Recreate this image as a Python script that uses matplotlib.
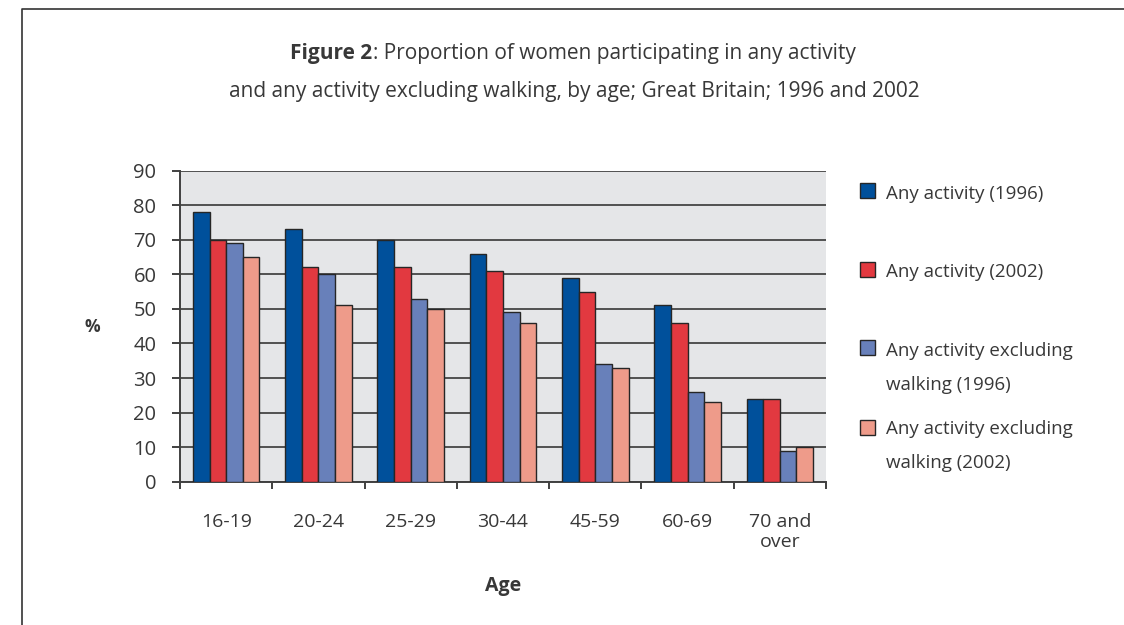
import numpy as np
import matplotlib
matplotlib.use("Agg")
import matplotlib.pyplot as plt
from matplotlib.patches import Rectangle
from matplotlib.lines import Line2D

plt.rcParams['font.family'] = ['Open Sans', 'DejaVu Sans']

ages = ["16-19", "20-24", "25-29", "30-44", "45-59", "60-69", "70 and\nover"]
any_1996 = [78, 73, 70, 66, 59, 51, 24]
any_2002 = [70, 62, 62, 61, 55, 46, 24]
excl_walk_1996 = [69, 60, 53, 49, 34, 26, 9]
excl_walk_2002 = [65, 51, 50, 46, 33, 23, 10]

series = [any_1996, any_2002, excl_walk_1996, excl_walk_2002]
labels = [["Any activity (1996)"], ["Any activity (2002)"],
          ["Any activity excluding", "walking (1996)"],
          ["Any activity excluding", "walking (2002)"]]
colors = ["#00509b", "#e23940", "#6880ba", "#ee9b8a"]
txt = "#383838"
edge = "#262626"

W, H = 1124, 625
fig = plt.figure(figsize=(W / 100, H / 100), dpi=100)
ax = fig.add_axes([180 / W, 1 - 481.7 / H, 646 / W, 311 / H])
ax.set_facecolor("#e5e6e8")

x = np.arange(len(ages))
bw = 0.18
for i, (vals, c) in enumerate(zip(series, colors)):
    ax.bar(x + (i - 1.5) * bw, vals, bw, color=c, edgecolor=edge,
           linewidth=1.0, zorder=3)

ax.set_xlim(-0.5, len(ages) - 0.5)
ax.set_ylim(0, 90)
ax.set_yticks(range(0, 91, 10))
ax.yaxis.grid(True, color="#505050", linewidth=1.4, zorder=1)
ax.set_axisbelow(True)
for s in ["top", "right"]:
    ax.spines[s].set_visible(False)
for s in ["left", "bottom"]:
    ax.spines[s].set_color("#404040")
    ax.spines[s].set_linewidth(1.4)

# category labels sit between the boundary ticks
ax.set_xticks(np.arange(-0.5, len(ages), 1.0))
ax.set_xticklabels([])
ax.set_xticks(x, minor=True)
ax.set_xticklabels(ages, minor=True, fontsize=14, color=txt,
                   linespacing=1.15)
ax.tick_params(axis="x", which="major", direction="out", length=5,
               width=1.4, color="#404040")
ax.tick_params(axis="x", which="minor", length=0, pad=22.5)
ax.tick_params(axis="y", direction="out", length=6, width=1.4,
               color="#404040", labelsize=14.5, labelcolor=txt, pad=11)

fig.text(92 / W, 1 - 327 / H, "%", fontsize=12.5, fontweight="bold",
         color=txt, ha="center", va="center")
fig.text(503 / W, 1 - 586 / H, "Age", fontsize=14, fontweight="bold",
         color=txt, ha="center", va="center")

# legend drawn as swatches with text beside them
sw_top = [182.5, 262.5, 340, 419.5]
line_y = [[194], [272], [350.5, 385], [429.5, 463]]
for top, lines, ys, c in zip(sw_top, labels, line_y, colors):
    fig.patches.append(Rectangle((860 / W, 1 - (top + 15) / H), 15 / W, 15 / H,
                                 transform=fig.transFigure, facecolor=c,
                                 edgecolor=edge, linewidth=1.0))
    for s, yy in zip(lines, ys):
        fig.text(886 / W, 1 - yy / H, s, fontsize=13.5, color=txt,
                 ha="left", va="center")

# two-part title: bold figure number, regular description
fig.canvas.draw()
r = fig.canvas.get_renderer()
t1 = fig.text(0, 1 - 54 / H, "Figure 2", fontsize=15, fontweight="bold",
              color=txt, va="center")
t2 = fig.text(0, 1 - 54 / H, ": Proportion of women participating in any activity",
              fontsize=15, color=txt, va="center")
w1 = t1.get_window_extent(r).width
w2 = t2.get_window_extent(r).width
x0 = 573 - (w1 + w2) / 2
t1.set_x(x0 / W)
t2.set_x((x0 + w1) / W)
fig.text(574 / W, 1 - 92 / H,
         "and any activity excluding walking, by age; Great Britain; 1996 and 2002",
         fontsize=15, color=txt, ha="center", va="center")

# outer frame
fig.lines.append(Line2D([22 / W, 22 / W, 1.0], [0.0, 1 - 9 / H, 1 - 9 / H],
                        transform=fig.transFigure, color="#333333",
                        linewidth=1.2))

fig.savefig("out.png", dpi=100)
